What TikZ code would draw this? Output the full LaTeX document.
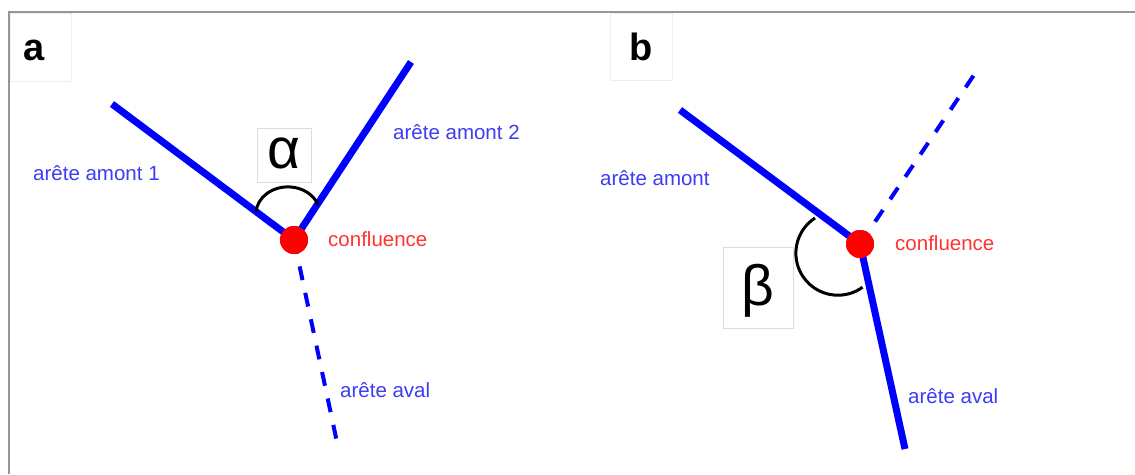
\documentclass[tikz,border=0pt]{standalone}
\usepackage{fontspec}
\setmainfont{Liberation Sans}
\begin{document}
\begin{tikzpicture}[x=1pt,y=1pt,
  edge/.style={line width=7pt,draw=blue},
  dashedge/.style={line width=4pt,draw=blue,dash pattern=on 14pt off 13pt},
  conf/.style={circle,fill=red,minimum size=28pt,inner sep=0pt},
  bluelbl/.style={text={rgb,255:red,60;green,60;blue,245},font=\fontsize{20.5}{24}\selectfont,anchor=west,inner sep=0pt},
  redlbl/.style={text={rgb,255:red,255;green,50;blue,50},font=\fontsize{20.5}{24}\selectfont,anchor=west,inner sep=0pt},
  panelbox/.style={draw={rgb,255:red,238;green,238;blue,238},fill=white,line width=1pt},
  anglebox/.style={draw={rgb,255:red,220;green,220;blue,220},fill=white,line width=1pt},
  panellbl/.style={font=\fontsize{38}{40}\selectfont\bfseries,inner sep=0pt},
  greek/.style={font=\fontsize{57}{60}\selectfont,inner sep=0pt},
  anglearc/.style={line width=3pt,draw=black}
]
\useasboundingbox (0,-474) rectangle (1135,0);
% frame
\draw[line width=2pt,draw={rgb,255:red,150;green,150;blue,150}] (9,-474) -- (9,-12) -- (1135,-12);
% panel label boxes
\draw[panelbox] (10,-13) rectangle (71,-81);
\node[panellbl] (la) at (34,-50) {a};
\draw[panelbox] (610,-13) rectangle (672,-80);
\node[panellbl] (lb) at (641,-47) {b};

% ---------- panel a ----------
\coordinate (a1) at (112,-104);
\coordinate (a2) at (411,-62);
\coordinate (ad) at (338,-447);
\node[conf] (ca) at (294,-240) {};
\draw[dashedge] (ca.center) -- (ad);
\draw[edge] (a1) -- (ca.center);
\draw[edge] (ca.center) -- (a2);
\node[conf] at (ca) {};
\draw[anglearc] (256,-212) arc[start angle=176,end angle=20,x radius=32,y radius=27];
\draw[anglebox] (257,-128) rectangle (311,-182);
\node[greek] (alpha) at (284,-153) {α};
\node[bluelbl] (ta1) at (33,-173) {arête amont 1};
\node[bluelbl] (ta2) at (393,-132) {arête amont 2};
\node[redlbl] (tca) at (328,-239) {confluence};
\node[bluelbl] (tad) at (340,-390) {arête aval};

% ---------- panel b ----------
\coordinate (b1) at (680,-110);
\coordinate (bx) at (980,-66);
\coordinate (bd) at (905,-449);
\node[conf] (cb) at (860,-244) {};
\draw[dashedge] (cb.center) -- (bx);
\draw[edge] (b1) -- (cb.center);
\draw[edge] (cb.center) -- (bd);
\node[conf] at (cb) {};
\draw[anglearc] (815,-218) arc[start angle=123,end angle=306,radius=42];
\draw[anglebox] (723,-247) rectangle (793,-328);
\node[greek] (beta) at (758,-291) {β};
\node[bluelbl] (tb1) at (600,-178) {arête amont};
\node[redlbl] (tcb) at (895,-243) {confluence};
\node[bluelbl] (tbd) at (908,-396) {arête aval};
\end{tikzpicture}
\end{document}
